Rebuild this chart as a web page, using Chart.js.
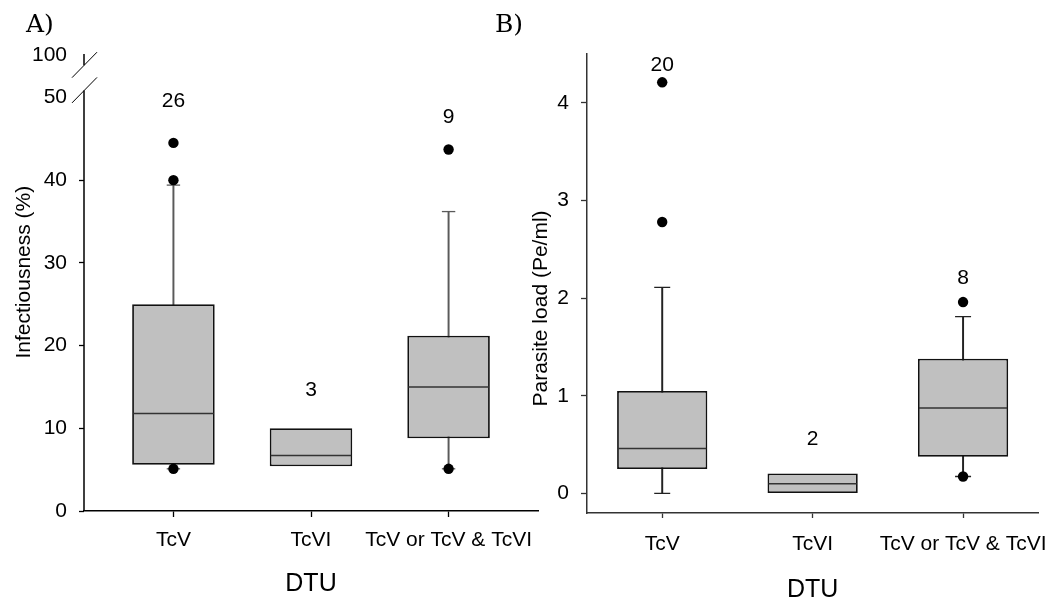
<!DOCTYPE html>
<html>
<head>
<meta charset="utf-8">
<script src="https://cdn.jsdelivr.net/npm/chart.js@4.4.1/dist/chart.umd.min.js"></script>
<style>
  html, body { margin: 0; padding: 0; background: #fff; }
  #wrap { position: relative; width: 1064px; height: 605px; }
  canvas { position: absolute; left: 0; top: 0; }
</style>
</head>
<body>
<div id="wrap">
  <canvas id="chartA" width="1064" height="605"></canvas>
  <canvas id="chartB" width="1064" height="605"></canvas>
</div>
<script>
// categories
const dtuLabels = ['TcV', 'TcVI', 'TcV or TcV & TcVI'];
const dtuPos = [1, 2, 3];

// A) infectiousness (%)
const infQ1 = [5.6, 5.4, 8.8];
const infMedian = [11.8, 6.7, 15.0];
const infQ3 = [25.0, 10.0, 21.2];
const infWhiskLow = [5.1, null, 5.1];
const infWhiskHigh = [39.4, null, 36.2];
const infOutliers = [[40.0, 44.5, 5.1], [], [43.7, 5.1]];
const infCounts = ['26', '3', '9'];
const infCountAt = [49.5, 14.6, 47.6];
const infTicks = [0, 10, 20, 30, 40, 50];

// B) parasite load (Pe/ml)
const loadQ1 = [0.25, 0.0, 0.375];
const loadMedian = [0.46, 0.10, 0.876];
const loadQ3 = [1.05, 0.205, 1.38];
const loadWhiskLow = [0.0, null, 0.174];
const loadWhiskHigh = [2.11, null, 1.81];
const loadOutliers = [[2.78, 4.21], [], [1.96, 0.174]];
const loadCounts = ['20', '2', '8'];
const loadCountAt = [4.39, 0.56, 2.2];
const loadTicks = [0, 1, 2, 3, 4];

Chart.defaults.font.family = "'Liberation Sans', Arial, sans-serif";
Chart.defaults.color = '#000';

// build the box plot pieces out of floating bars and scatter points
function boxDatasets(q1, med, q3, wLow, wHigh, outliers, whiskColor, capR){
    const boxes = dtuPos.map((x, i) => ({x: x, y: [q1[i], q3[i]]}));
    const whiskers = [];
    const caps = [];
    dtuPos.forEach((x, i) => {
        if(wLow[i] == null) return;
        whiskers.push({x: x, y: [wLow[i], wHigh[i]]});
        caps.push({x: x, y: wLow[i]});
        caps.push({x: x, y: wHigh[i]});
    });
    const medians = dtuPos.map((x, i) => ({x: x, y: med[i]}));
    const dots = [];
    outliers.forEach((list, i) => list.forEach(v => dots.push({x: dtuPos[i], y: v})));

    // half of the box width, in pixels
    const halfBox = ctx => {
        const s = ctx.chart.scales.x;
        return s.getPixelForValue(1.3) - s.getPixelForValue(1) - 1;
    };

    return [
        {type: 'scatter', data: dots, order: 0, pointRadius: 5.2,
         pointBackgroundColor: '#000', pointBorderWidth: 0},
        {type: 'scatter', data: medians, order: 1, pointStyle: 'line',
         pointRadius: halfBox, pointBorderColor: '#333', pointBorderWidth: 1.5},
        {type: 'bar', data: boxes, order: 2, grouped: false,
         barPercentage: 0.6, categoryPercentage: 1,
         backgroundColor: '#c0c0c0', borderColor: '#111', borderWidth: 1.8, borderSkipped: false},
        {type: 'scatter', data: caps, order: 3, pointStyle: 'line',
         pointRadius: capR, pointBorderColor: whiskColor, pointBorderWidth: 1.3},
        {type: 'bar', data: whiskers, order: 4, grouped: false, barThickness: 1.3,
         backgroundColor: whiskColor, borderWidth: 0}
    ];
}

// n labels above each box
function countLabels(counts, at){
    return {
        id: 'counts',
        afterDatasetsDraw(chart){
            const c = chart.ctx;
            c.save();
            c.font = "21px 'Liberation Sans', Arial";
            c.fillStyle = '#000';
            c.textAlign = 'center';
            c.textBaseline = 'middle';
            counts.forEach((t, i) => {
                c.fillText(t, chart.scales.x.getPixelForValue(dtuPos[i]), chart.scales.y.getPixelForValue(at[i]));
            });
            c.restore();
        }
    };
}

// rotated y title and panel letter
function panelText(title, titleX, titleStart, letter, letterX){
    return {
        id: 'paneltext',
        afterDraw(chart){
            const c = chart.ctx;
            c.save();
            c.fillStyle = '#000';
            c.font = "25px 'DejaVu Serif', serif";
            c.textBaseline = 'alphabetic';
            c.textAlign = 'left';
            c.fillText(letter, letterX, 32);
            c.translate(titleX, titleStart);
            c.rotate(-Math.PI / 2);
            c.font = "21px 'Liberation Sans', Arial";
            c.fillText(title, 0, 0);
            c.restore();
        }
    };
}

// broken y axis for panel A (50 then jump to 100)
const brokenAxis = {
    id: 'brokenaxis',
    afterDraw(chart){
        const y = chart.scales.y;
        const x0 = chart.chartArea.left;
        const c = chart.ctx;
        const lowTop = y.getPixelForValue(50.85);
        const upBot = y.getPixelForValue(53.9);
        c.save();
        c.strokeStyle = '#000';
        c.lineWidth = 1.5;
        c.beginPath();
        c.moveTo(x0, y.getPixelForValue(0));
        c.lineTo(x0, lowTop);
        c.moveTo(x0, upBot);
        c.lineTo(x0, chart.chartArea.top);
        c.stroke();
        c.lineWidth = 1;
        c.beginPath();
        c.moveTo(x0 - 12, lowTop + 12.5);
        c.lineTo(x0 + 13, lowTop - 13);
        c.moveTo(x0 - 12, upBot + 12.5);
        c.lineTo(x0 + 13, upBot - 13);
        c.stroke();
        c.restore();
    }
};

function xScale(min, max, tickLen, pad, color, height, titlePad){
    return {
        type: 'linear', min: min, max: max, offset: false,
        afterBuildTicks: s => { s.ticks = dtuPos.map(v => ({value: v})); },
        afterFit: s => { s.height = height; },
        ticks: {font: {size: 21}, padding: pad, maxRotation: 0, autoSkip: false,
                callback: v => dtuLabels[v - 1]},
        grid: {offset: false, drawOnChartArea: false, tickLength: tickLen, tickColor: color, tickWidth: 1.3},
        border: {display: true, color: color, width: 1.5},
        title: {display: true, text: 'DTU', font: {size: 25}, padding: {top: 0, bottom: titlePad}}
    };
}

// panel A
new Chart(document.getElementById('chartA'), {
    type: 'bar',
    data: {datasets: boxDatasets(infQ1, infMedian, infQ3, infWhiskLow, infWhiskHigh, infOutliers, '#5a5a5a', 6.7)},
    options: {
        responsive: false,
        animation: false,
        events: [],
        layout: {padding: {left: 0, top: 54, right: 526, bottom: 0}},
        plugins: {legend: {display: false}, tooltip: {enabled: false}},
        scales: {
            x: xScale(0.35, 3.65, 6, 11, '#000', 94, 6),
            y: {
                type: 'linear', min: 0, max: 55.25,
                afterBuildTicks: s => { s.ticks = infTicks.concat([55.1]).map(v => ({value: v})); },
                afterFit: s => { s.width = 84; },
                ticks: {font: {size: 21}, padding: 12,
                        callback: v => v > 52 ? '100' : String(v)},
                grid: {drawOnChartArea: false, tickLength: 5, tickWidth: 1.3,
                       tickColor: ctx => ctx.tick && ctx.tick.value >= 50 ? 'rgba(0,0,0,0)' : '#000'},
                border: {display: false}
            }
        }
    },
    plugins: [brokenAxis, countLabels(infCounts, infCountAt),
              panelText('Infectiousness (%)', 29.5, 358.5, 'A)', 26)]
});

// panel B
new Chart(document.getElementById('chartB'), {
    type: 'bar',
    data: {datasets: boxDatasets(loadQ1, loadMedian, loadQ3, loadWhiskLow, loadWhiskHigh, loadOutliers, '#222', 8)},
    options: {
        responsive: false,
        animation: false,
        events: [],
        layout: {padding: {left: 0, top: 54, right: 21, bottom: 0}},
        plugins: {legend: {display: false}, tooltip: {enabled: false}},
        scales: {
            x: xScale(0.5, 3.5, 5, 14, '#333', 92, 0),
            y: {
                type: 'linear', min: -0.2, max: 4.5,
                afterBuildTicks: s => { s.ticks = loadTicks.map(v => ({value: v})); },
                afterFit: s => { s.width = 587; },
                ticks: {font: {size: 21}, padding: 12},
                grid: {drawOnChartArea: false, tickLength: 6, tickWidth: 1.3, tickColor: '#333'},
                border: {display: true, color: '#333', width: 1.5}
            }
        }
    },
    plugins: [countLabels(loadCounts, loadCountAt),
              panelText('Parasite load (Pe/ml)', 547, 406.5, 'B)', 495)]
});
</script>
</body>
</html>
